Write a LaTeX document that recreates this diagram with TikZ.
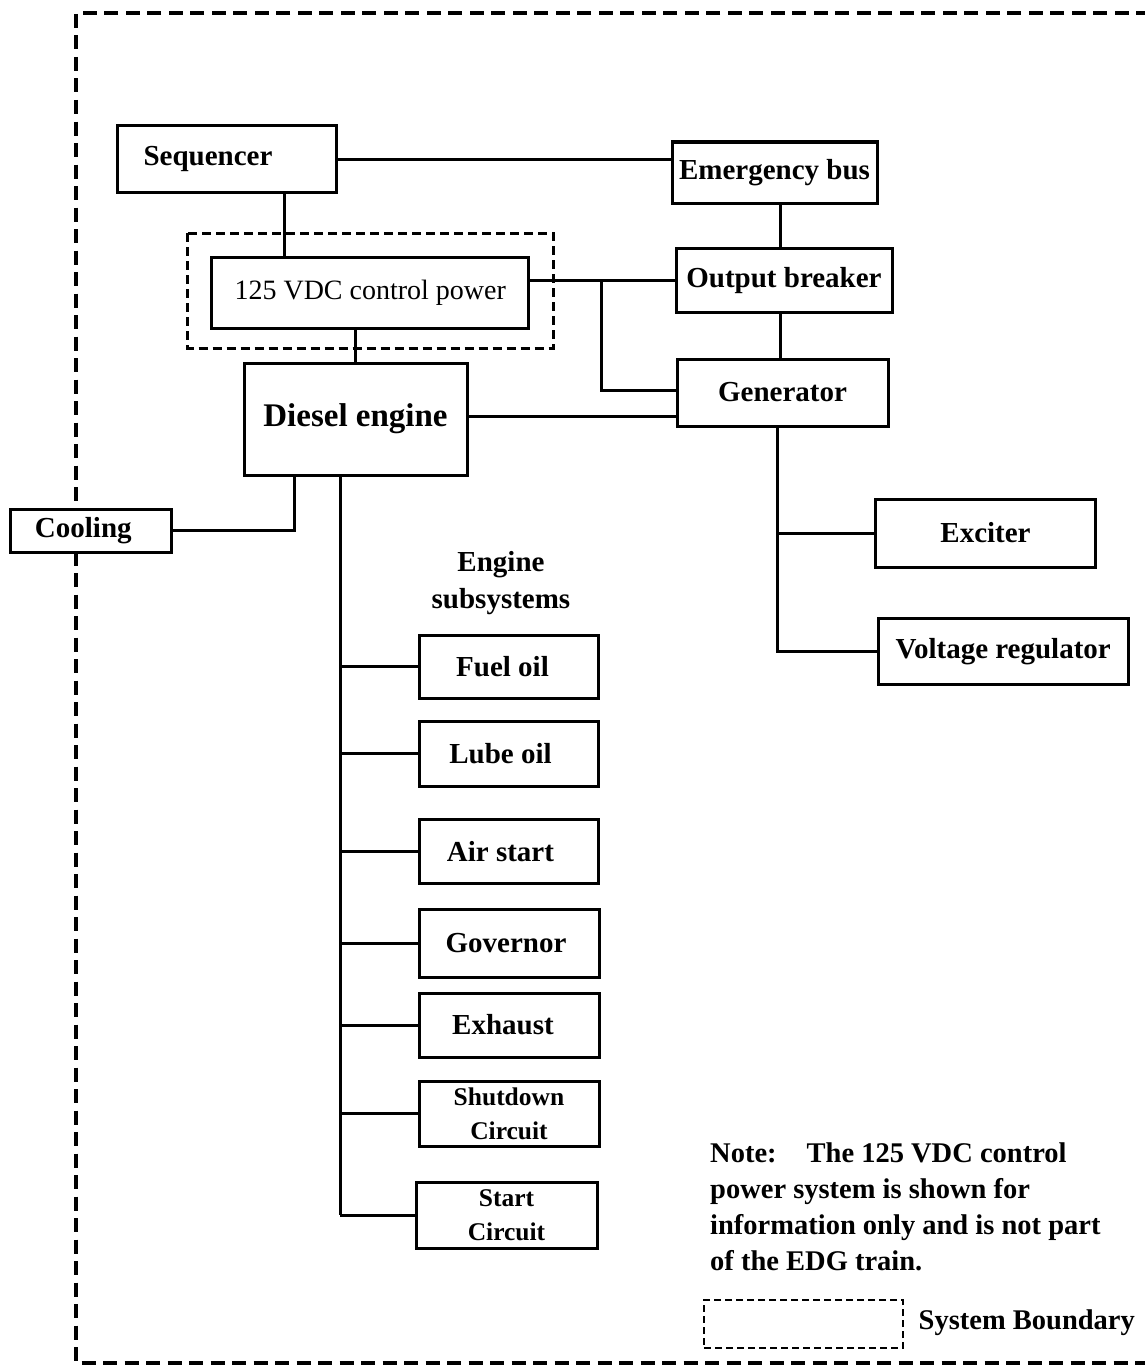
\documentclass[tikz,border=0pt]{standalone}
\usepackage{fontspec}
\setmainfont{Liberation Serif}
\begin{document}
\begin{tikzpicture}[x=1pt,y=-1pt,
  box/.style={draw, line width=3pt, fill=white, inner sep=0pt, align=center,
    font=\bfseries\fontsize{29}{34}\selectfont},
  small/.style={font=\bfseries\fontsize{25.5}{34}\selectfont},
  conn/.style={line width=3pt},
  lbl/.style={inner sep=0pt, font=\bfseries\fontsize{29}{37}\selectfont},
  outerdash/.style={line width=3.6pt, dash pattern=on 14pt off 7.5pt},
  innerdash/.style={line width=3pt, dash pattern=on 9pt off 5pt},
  legdash/.style={line width=2.8pt, dash pattern=on 7pt off 4pt},
]
\useasboundingbox (0,0) rectangle (1145,1370);

% outer system boundary
\draw[outerdash] (1150,13) -- (76,13) -- (76,1363) -- (1150,1363);
% 125 VDC boundary
\draw[innerdash] (187.5,233) rectangle (553,348);

% coordinates for connector columns/rows
\coordinate (xs) at (284,0);
\coordinate (xe) at (780,0);
\coordinate (xj) at (601,0);
\coordinate (xc) at (294,0);
\coordinate (xt) at (340,0);
\coordinate (xg) at (777,0);
\coordinate (yg) at (0,390);
\coordinate (yd) at (0,416);

% main boxes
\node[box, minimum width=219pt, minimum height=66pt] (seq) at (226.5,159) {\hspace*{-37pt}Sequencer};
\node[box, minimum width=205pt, minimum height=61pt] (eb) at (774.5,172.5) {Emergency bus};
\node[box, minimum width=317pt, minimum height=71pt, font=\fontsize{28}{34}\selectfont] (vdc) at (370.25,292.5) {125 VDC control power};
\node[box, minimum width=216pt, minimum height=64pt] (ob) at (784,280.25) {Output breaker};
\node[box, minimum width=211pt, minimum height=67pt] (gen) at (782.5,392.5) {Generator};
\node[box, minimum width=223pt, minimum height=112pt, font=\bfseries\fontsize{33}{38}\selectfont] (diesel) at (355.5,419) {Diesel engine};
\node[box, minimum width=161pt, minimum height=43pt] (cool) at (91.3,530.5) {\hspace*{-16pt}Cooling};
\node[box, minimum width=220pt, minimum height=68pt] (exc) at (985.5,533) {Exciter};
\node[box, minimum width=250pt, minimum height=66pt] (vr) at (1003.25,651.5) {Voltage regulator};

% engine subsystems
\node[lbl, align=center] (esub) at (501,583) {Engine\\subsystems};
\node[box, minimum width=179pt, minimum height=63pt] (fuel) at (508.5,666.5) {\hspace*{-12pt}Fuel oil};
\node[box, minimum width=179pt, minimum height=65pt] (lube) at (508.5,753.5) {\hspace*{-16pt}Lube oil};
\node[box, minimum width=179pt, minimum height=64pt] (air) at (508.5,851.5) {\hspace*{-16pt}Air start};
\node[box, minimum width=180pt, minimum height=68pt] (gov) at (509,943) {\hspace*{-6pt}Governor};
\node[box, minimum width=180pt, minimum height=64pt] (exh) at (509,1025) {\hspace*{-12pt}Exhaust};
\node[box, small, minimum width=180pt, minimum height=65pt] (shut) at (509,1113.5) {Shutdown\\Circuit};
\node[box, small, minimum width=181pt, minimum height=66pt] (start) at (506.5,1215) {Start\\Circuit};

% connectors
\draw[conn] (seq.east) -- (seq.east -| eb.west);
\draw[conn] (seq.south -| xs) -- (vdc.north -| xs);
\draw[conn] (eb.south -| xe) -- (ob.north -| xe);
\draw[conn] (ob.south -| xe) -- (gen.north -| xe);
\draw[conn] (ob.west) -- (ob.west -| vdc.east);
\draw[conn] (ob.west -| xj) |- (gen.west |- yg);
\draw[conn] (diesel.east |- yd) -- (gen.west |- yd);
\draw[conn] (diesel.north) -- (diesel.north |- vdc.south);
\draw[conn] (diesel.south -| xc) |- (cool.east);
\draw[conn] (diesel.south -| xt) -- (xt |- start.west);
\foreach \n in {fuel,lube,air,gov,exh,shut,start}
  \draw[conn] (xt |- \n.west) -- (\n.west);
\draw[conn] (gen.south -| xg) |- (vr.west);
\draw[conn] (xg |- exc.west) -- (exc.west);

% note and legend
\node[lbl, anchor=north west, align=left, font=\bfseries\fontsize{28.5}{35.7}\selectfont] (note) at (710,1143)
  {Note:\hspace{30pt}The 125 VDC control\\power system is shown for\\information only and is not part\\of the EDG train.};
\node[legdash, draw, minimum width=199pt, minimum height=48pt, inner sep=0pt] (leg) at (803.5,1324) {};
\node[lbl, anchor=west, font=\bfseries\fontsize{28.5}{34}\selectfont] (sb) at (918.5,1323) {System Boundary};
\end{tikzpicture}
\end{document}
